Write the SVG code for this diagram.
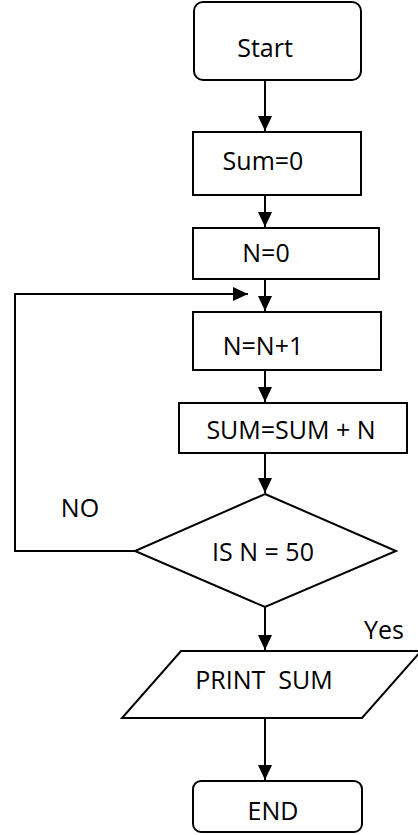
<svg xmlns="http://www.w3.org/2000/svg" width="418" height="835" viewBox="0 0 418 835">
<style>
.box{fill:#fff;stroke:#000;stroke-width:2}
.t{font-family:"Open Sans","Liberation Sans",sans-serif;font-size:25px;fill:#000;text-anchor:middle}
.c{fill:none;stroke:#000;stroke-width:2}
</style>
<defs>
<marker id="ah" markerUnits="userSpaceOnUse" markerWidth="15" markerHeight="15" refX="15" refY="7" orient="auto">
<path d="M0,0 L15,7 L0,14 z" fill="#000"/>
</marker>
</defs>
<rect width="418" height="835" fill="#fff"/>
<g id="connectors">
<line class="c" x1="265" y1="80" x2="265" y2="131" marker-end="url(#ah)"/>
<line class="c" x1="265" y1="195" x2="265" y2="227" marker-end="url(#ah)"/>
<line class="c" x1="265" y1="279" x2="265" y2="311" marker-end="url(#ah)"/>
<line class="c" x1="265" y1="370" x2="265" y2="402" marker-end="url(#ah)"/>
<line class="c" x1="265" y1="453" x2="265" y2="493" marker-end="url(#ah)"/>
<line class="c" x1="265" y1="607" x2="265" y2="650" marker-end="url(#ah)"/>
<line class="c" x1="265" y1="718" x2="265" y2="780" marker-end="url(#ah)"/>
<polyline class="c" points="135,551 15,551 15,294 248,294" marker-end="url(#ah)"/>
</g>
<g id="start">
<rect class="box" x="194" y="2" width="167" height="78" rx="9"/>
<text class="t" x="265" y="57">Start</text>
</g>
<g id="sum0">
<rect class="box" x="193" y="132" width="168" height="63"/>
<text class="t" x="263" y="170">Sum=0</text>
</g>
<g id="n0">
<rect class="box" x="193" y="228" width="186" height="51"/>
<text class="t" x="266" y="262">N=0</text>
</g>
<g id="ninc">
<rect class="box" x="193" y="312" width="188" height="58"/>
<text class="t" x="263" y="355">N=N+1</text>
</g>
<g id="sumadd">
<rect class="box" x="179" y="403" width="228" height="50"/>
<text class="t" x="291" y="439">SUM=SUM + N</text>
</g>
<g id="decision">
<polygon class="box" points="265,494 396,551 265,607 135,551"/>
<text class="t" x="263" y="561">IS N = 50</text>
</g>
<g id="labels">
<text class="t" x="80" y="517">NO</text>
<text class="t" x="384" y="639">Yes</text>
</g>
<g id="print">
<polygon class="box" points="181,651 421,651 362,718 122,718"/>
<text class="t" x="264" y="689" xml:space="preserve">PRINT  SUM</text>
</g>
<g id="end">
<rect class="box" x="193" y="781" width="169" height="51" rx="8"/>
<text class="t" x="273" y="820">END</text>
</g>
</svg>
